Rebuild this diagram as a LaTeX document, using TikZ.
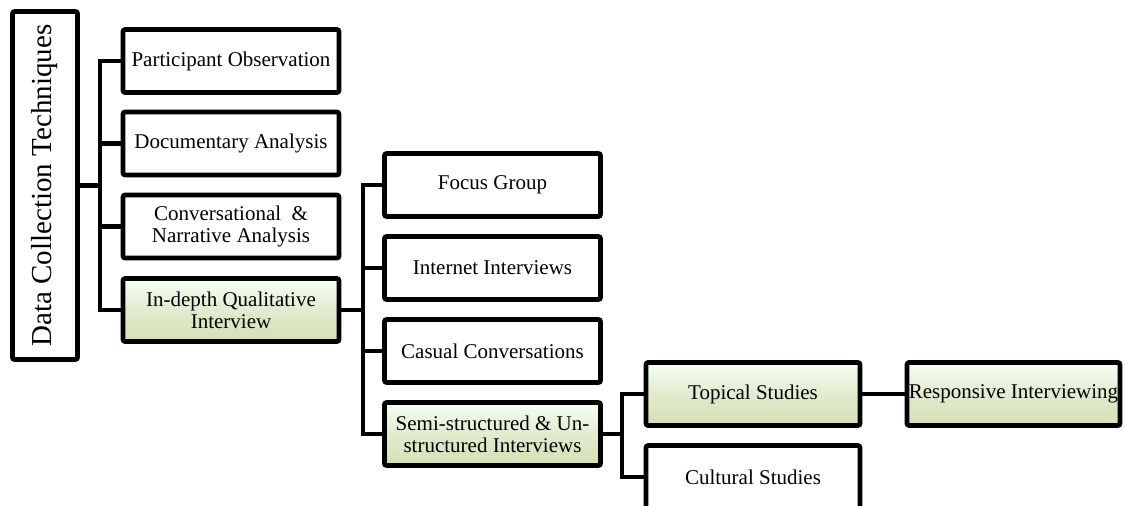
\documentclass[tikz,border=0pt]{standalone}
\usepackage{fontspec}
\setmainfont{Liberation Serif}
\begin{document}
\begin{tikzpicture}[x=1pt,y=-1pt,
  box/.style={draw=black, line width=4.6pt, rounded corners=2pt, fill=white,
    minimum width=216pt, minimum height=63pt, align=center, inner sep=2pt,
    font=\fontsize{21}{22}\selectfont},
  hilite/.style={box, top color=green!4!white, bottom color=gcol, middle color=gmid},
  link/.style={line width=4.6pt}
]
\definecolor{gcol}{HTML}{D3E0B5}
\definecolor{gmid}{HTML}{E2EBCF}
\useasboundingbox (0,0) rectangle (1125,506);
\clip (0,0) rectangle (1125,506);

% root
\node[draw=black, line width=4.6pt, rounded corners=2pt, minimum width=65pt,
      minimum height=348pt, inner sep=0pt, font=\fontsize{29}{30}\selectfont]
      (root) at (45,185.5) {\rotatebox{90}{Data Collection Techniques}};

% first level
\node[box]    (po) at (231,61)    {Participant Observation};
\node[box]    (da) at (231,143.5) {Documentary Analysis};
\node[box]    (cn) at (231,226.5) {Conversational~~\&\\Narrative Analysis};
\node[hilite] (iq) at (231,310)   {In-depth Qualitative\\Interview};

% second level
\node[box]    (fg) at (492.5,185) {Focus Group};
\node[box]    (ii) at (492.5,268) {Internet Interviews};
\node[box]    (cc) at (492.5,351) {Casual Conversations};
\node[hilite] (ss) at (492.5,434) {Semi-structured \& Un-\\structured Interviews};

% third level
\node[hilite, minimum width=214pt] (ts) at (753,394)  {Topical Studies};
\node[box, minimum width=214pt]    (cs) at (753,477)  {Cultural Studies};
\node[hilite, minimum width=213pt, inner sep=0pt] (ri) at (1013.5,394) {Responsive Interviewing};

% trunk points
\coordinate (t1) at (100,185.5);
\coordinate (t2) at (363,310);
\coordinate (t3) at (622,434);

% connectors
\draw[link] (root.east) -- (t1);
\draw[link] (t1) |- (po.west);
\draw[link] (t1) |- (da.west);
\draw[link] (t1) |- (cn.west);
\draw[link] (t1) |- (iq.west);

\draw[link] (iq.east) -- (t2);
\draw[link] (t2) |- (fg.west);
\draw[link] (t2) |- (ii.west);
\draw[link] (t2) |- (cc.west);
\draw[link] (t2) |- (ss.west);

\draw[link] (ss.east) -- (t3);
\draw[link] (t3) |- (ts.west);
\draw[link] (t3) |- (cs.west);

\draw[link] (ts.east) -- (ri.west);
\end{tikzpicture}
\end{document}
